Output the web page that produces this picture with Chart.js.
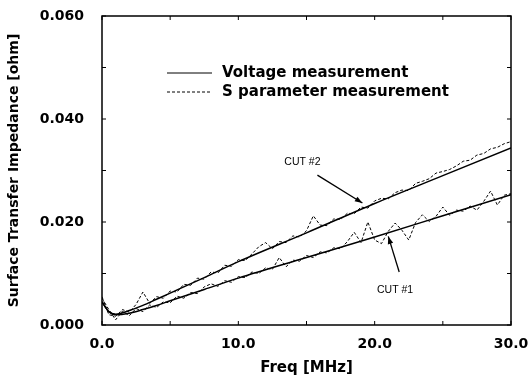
<!DOCTYPE html>
<html>
<head>
<meta charset="utf-8">
<script src="https://cdn.jsdelivr.net/npm/chart.js@4.4.1/dist/chart.umd.min.js"></script>
<style>
  html, body { margin: 0; padding: 0; background: #fff; }
  #wrap { width: 529px; height: 378px; }
</style>
</head>
<body>
<div id="wrap"><canvas id="c" width="529" height="378"></canvas></div>
<script>
// ---- Data ----
const voltFreq = [0, 0.5, 1, 2, 3, 4, 5, 7.5, 10, 15, 20, 25, 30];
const voltCut1 = [0.0045, 0.0026, 0.0020, 0.0023, 0.0030, 0.0038, 0.0047, 0.0069, 0.0091, 0.0131, 0.0171, 0.0212, 0.0253];
const voltCut2 = [0.0045, 0.0026, 0.0021, 0.0028, 0.0038, 0.0050, 0.0062, 0.0092, 0.0123, 0.0179, 0.0236, 0.0290, 0.0344];

const sFreq = [0,0.5,1,1.5,2,2.5,3,3.5,4,4.5,5,5.5,6,6.5,7,7.5,8,8.5,9,9.5,10,10.5,11,11.5,12,12.5,13,13.5,14,14.5,15,15.5,16,16.5,17,17.5,18,18.5,19,19.5,20,20.5,21,21.5,22,22.5,23,23.5,24,24.5,25,25.5,26,26.5,27,27.5,28,28.5,29,29.5,30];
const sCut1 = [0.0052,0.0030,0.0010,0.0027,0.0018,0.0032,0.0026,0.0039,0.0034,0.0045,0.0043,0.0056,0.0052,0.0063,0.0061,0.0074,0.0080,0.0075,0.0086,0.0083,0.0094,0.0092,0.0103,0.0100,0.0111,0.0108,0.0131,0.0113,0.0126,0.0124,0.0135,0.0131,0.0142,0.0140,0.0150,0.0148,0.0162,0.0180,0.0160,0.0200,0.0165,0.0158,0.0182,0.0198,0.0184,0.0165,0.0199,0.0214,0.0201,0.0211,0.0229,0.0213,0.0223,0.0221,0.0231,0.0223,0.0240,0.0260,0.0233,0.0252,0.0255];
const sCut2 = [0.0055,0.0020,0.0017,0.0030,0.0025,0.0040,0.0064,0.0042,0.0055,0.0052,0.0066,0.0064,0.0079,0.0077,0.0091,0.0089,0.0103,0.0101,0.0116,0.0114,0.0127,0.0125,0.0138,0.0152,0.0160,0.0148,0.0162,0.0160,0.0173,0.0171,0.0183,0.0212,0.0194,0.0193,0.0206,0.0205,0.0217,0.0216,0.0229,0.0227,0.0241,0.0246,0.0245,0.0257,0.0262,0.0261,0.0275,0.0279,0.0284,0.0295,0.0298,0.0302,0.0309,0.0318,0.0320,0.0330,0.0333,0.0342,0.0345,0.0352,0.0356];

const legendLabels = ["Voltage measurement", "S parameter measurement"];
const xTickLabels = ["0.0", "10.0", "20.0", "30.0"];
const yTickLabels = ["0.000", "0.020", "0.040", "0.060"];
const xTitle = "Freq [MHz]";
const yTitle = "Surface Transfer Impedance [ohm]";
const cutLabels = ["CUT #1", "CUT #2"];

// annotation anchors in data units: [labelX, labelY, arrowFromX, arrowFromY, arrowToX, arrowToY]
const cut1Note = [21.5, 0.0068, 21.8, 0.0103, 21.0, 0.0172];
const cut2Note = [14.7, 0.0317, 15.8, 0.0291, 19.1, 0.0237];

const pts = (xs, ys) => xs.map((x, i) => ({ x: x, y: ys[i] }));
const FONT = "'DejaVu Sans', sans-serif";

const framePlugin = {
  id: 'framePlugin',
  afterDatasetsDraw(chart) {
    const ctx = chart.ctx;
    const a = chart.chartArea;
    const xs = chart.scales.x, ys = chart.scales.y;
    ctx.save();
    ctx.strokeStyle = '#000';
    ctx.lineWidth = 1.5;
    ctx.strokeRect(a.left, a.top, a.right - a.left, a.bottom - a.top);
    ctx.lineWidth = 1;
    // inward ticks
    xs.ticks.forEach(t => {
      const px = xs.getPixelForValue(t.value);
      ctx.beginPath();
      ctx.moveTo(px, a.bottom); ctx.lineTo(px, a.bottom - 4);
      ctx.moveTo(px, a.top); ctx.lineTo(px, a.top + 4);
      ctx.stroke();
    });
    ys.ticks.forEach(t => {
      const py = ys.getPixelForValue(t.value);
      ctx.beginPath();
      ctx.moveTo(a.left, py); ctx.lineTo(a.left + 4, py);
      ctx.moveTo(a.right, py); ctx.lineTo(a.right - 4, py);
      ctx.stroke();
    });
    // legend
    const ds = chart.data.datasets;
    const lx0 = a.left + 65, lx1 = a.left + 110, tx = a.left + 120;
    const rows = [{ y: a.top + 57, d: ds[0] }, { y: a.top + 76, d: ds[2] }];
    ctx.font = "bold 15px " + FONT;
    ctx.fillStyle = '#000';
    ctx.textBaseline = 'middle';
    rows.forEach((r, i) => {
      ctx.save();
      ctx.lineWidth = 1;
      ctx.setLineDash(r.d.borderDash || []);
      ctx.beginPath(); ctx.moveTo(lx0, r.y); ctx.lineTo(lx1, r.y); ctx.stroke();
      ctx.restore();
      ctx.fillText(legendLabels[i], tx, r.y);
    });
    // CUT annotations
    const drawNote = (note, text) => {
      const lx = xs.getPixelForValue(note[0]), ly = ys.getPixelForValue(note[1]);
      ctx.font = "10.5px 'Liberation Sans', Arial, sans-serif";
      ctx.textAlign = 'center';
      ctx.fillText(text, lx, ly);
      const x0 = xs.getPixelForValue(note[2]), y0 = ys.getPixelForValue(note[3]);
      const x1 = xs.getPixelForValue(note[4]), y1 = ys.getPixelForValue(note[5]);
      ctx.lineWidth = 1.3;
      ctx.beginPath(); ctx.moveTo(x0, y0); ctx.lineTo(x1, y1); ctx.stroke();
      const ang = Math.atan2(y1 - y0, x1 - x0), L = 8, w = 0.35;
      ctx.beginPath();
      ctx.moveTo(x1, y1);
      ctx.lineTo(x1 - L * Math.cos(ang - w), y1 - L * Math.sin(ang - w));
      ctx.lineTo(x1 - L * Math.cos(ang + w), y1 - L * Math.sin(ang + w));
      ctx.closePath(); ctx.fill();
    };
    drawNote(cut2Note, cutLabels[1]);
    drawNote(cut1Note, cutLabels[0]);
    ctx.restore();
  }
};

new Chart(document.getElementById('c'), {
  type: 'line',
  data: {
    datasets: [
      { label: legendLabels[0] + ' CUT #1', data: pts(voltFreq, voltCut1), borderColor: '#000', borderWidth: 1.5, pointRadius: 0, cubicInterpolationMode: 'monotone', fill: false },
      { label: legendLabels[0] + ' CUT #2', data: pts(voltFreq, voltCut2), borderColor: '#000', borderWidth: 1.5, pointRadius: 0, cubicInterpolationMode: 'monotone', fill: false },
      { label: legendLabels[1] + ' CUT #1', data: pts(sFreq, sCut1), borderColor: '#000', borderWidth: 1, borderDash: [3, 2], pointRadius: 0, tension: 0, fill: false },
      { label: legendLabels[1] + ' CUT #2', data: pts(sFreq, sCut2), borderColor: '#000', borderWidth: 1, borderDash: [3, 2], pointRadius: 0, tension: 0, fill: false }
    ]
  },
  options: {
    responsive: false,
    animation: false,
    devicePixelRatio: 1,
    layout: { padding: { left: 4, right: 18, top: 16, bottom: 1 } },
    plugins: { legend: { display: false }, tooltip: { enabled: false } },
    scales: {
      x: {
        type: 'linear', min: 0, max: 30,
        grid: { display: false },
        border: { display: false },
        ticks: {
          stepSize: 5, autoSkip: false, maxRotation: 0, padding: 3, color: '#000',
          font: { family: FONT, size: 14, weight: 'bold' },
          callback: (v) => (v % 10 === 0 ? xTickLabels[v / 10] : '')
        },
        title: { display: true, text: xTitle, color: '#000', font: { family: FONT, size: 15, weight: 'bold' }, padding: { top: 11, bottom: 0 } },
        afterFit: (s) => { s.height = 52; s.paddingLeft = 0; s.paddingRight = 0; }
      },
      y: {
        min: 0, max: 0.06,
        grid: { display: false },
        border: { display: false },
        ticks: {
          stepSize: 0.01, autoSkip: false, padding: 10, color: '#000',
          font: { family: FONT, size: 14, weight: 'bold' },
          callback: (v) => { const k = Math.round(v * 100); return k % 2 === 0 ? yTickLabels[k / 2] : ''; }
        },
        title: { display: true, text: yTitle, color: '#000', font: { family: FONT, size: 14, weight: 'bold' }, padding: { top: 2, bottom: 4 } },
        afterFit: (s) => { s.width = 98; s.paddingTop = 0; s.paddingBottom = 0; }
      }
    }
  },
  plugins: [framePlugin]
});
</script>
</body>
</html>
